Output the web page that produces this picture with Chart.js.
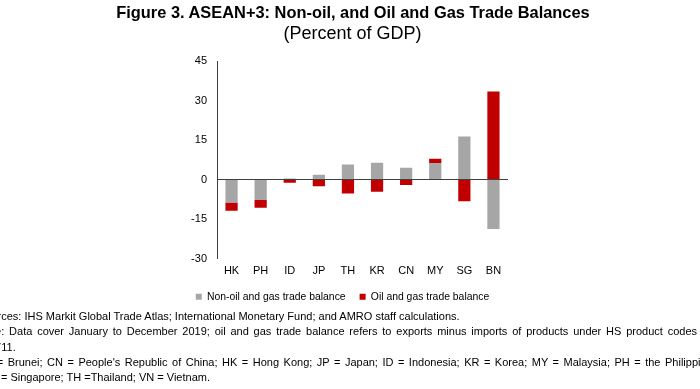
<!DOCTYPE html>
<html>
<head>
<meta charset="utf-8">
<script src="https://cdn.jsdelivr.net/npm/chart.js@4"></script>
<style>
  html, body { margin: 0; padding: 0; background: #fff; overflow: hidden; }
  #wrap { position: relative; width: 700px; height: 389px; }
  #tradeChart { position: absolute; left: 0; top: 0; }
  .head { position: absolute; left: 0; width: 706px; text-align: center; font-family: Arial, "Liberation Sans", sans-serif; color: #000; white-space: nowrap; }
  .note { position: absolute; font: 11px Arial, "Liberation Sans", sans-serif; color: #000; white-space: nowrap; }
</style>
</head>
<body>
<div id="wrap">
  <canvas id="tradeChart" width="700" height="389"></canvas>
  <div class="head" style="top:3px; font-size:16.4px; font-weight:bold;">Figure 3. ASEAN+3: Non-oil, and Oil and Gas Trade Balances</div>
  <div class="head" style="top:23px; font-size:18px; width:705px;">(Percent of GDP)</div>
  <div class="note" style="left:-22px; top:310px;">Sources: IHS Markit Global Trade Atlas; International Monetary Fund; and AMRO staff calculations.</div>
  <div class="note" style="left:-22px; top:325px; word-spacing:1.75px;">Note: Data cover January to December 2019; oil and gas trade balance refers to exports minus imports of products under HS product codes 2709 to</div>
  <div class="note" style="left:-11px; top:341px;">2711.</div>
  <div class="note" style="left:-23px; top:356px; word-spacing:1.45px;">BN = Brunei; CN = People's Republic of China; HK = Hong Kong; JP = Japan; ID = Indonesia; KR = Korea; MY = Malaysia; PH = the Philippines;</div>
  <div class="note" style="left:-18px; top:371px;">SG = Singapore; TH =Thailand; VN = Vietnam.</div>
</div>
<script>
// 国・地域ごとの貿易収支 (GDP比)
const categories = ['HK', 'PH', 'ID', 'JP', 'TH', 'KR', 'CN', 'MY', 'SG', 'BN'];
const nonOilBalance = [-8.7, -7.8, 0.4, 1.8, 5.7, 6.4, 4.5, 6.3, 16.3, -18.8];
const oilGasBalance = [-3.1, -2.9, -1.2, -2.5, -5.3, -4.6, -2.1, 1.6, -8.2, 33.4];
const yTicks = [-30, -15, 0, 15, 30, 45];

Chart.defaults.font.family = 'Arial, "Liberation Sans", sans-serif';
Chart.defaults.color = '#000';

let ctx = document.getElementById('tradeChart');
new Chart(ctx, {
  type: 'bar',
  data: {
    labels: categories,
    datasets: [
      {
        label: 'Non-oil and gas trade balance',
        data: nonOilBalance,
        backgroundColor: '#A6A6A6',
        barPercentage: 0.42,
        categoryPercentage: 1,
      },
      {
        label: 'Oil and gas trade balance',
        data: oilGasBalance,
        backgroundColor: '#C00000',
        barPercentage: 0.42,
        categoryPercentage: 1,
      },
    ],
  },
  options: {
    responsive: false,
    animation: false,
    layout: {
      padding: { left: 177, right: 192, top: 61, bottom: 77 },
    },
    scales: {
      x: {
        stacked: true,
        afterFit: function (scale) { scale.height = 19; },
        grid: { display: false },
        border: { display: false },
        ticks: { font: { size: 11 }, padding: -2 },
      },
      y: {
        stacked: true,
        min: -30,
        max: 45,
        afterFit: function (scale) { scale.width = 40; },
        afterBuildTicks: function (scale) {
          scale.ticks = yTicks.map(function (v) { return { value: v }; });
        },
        grid: {
          drawTicks: false,
          color: function (c) { return c.tick && c.tick.value === 0 ? '#404040' : 'rgba(0,0,0,0)'; },
        },
        border: { display: true, color: '#404040' },
        ticks: { font: { size: 11 }, padding: 10 },
      },
    },
    plugins: {
      title: { display: false },
      legend: {
        position: 'bottom',
        labels: { boxWidth: 6, boxHeight: 6, font: { size: 10.4 }, padding: 14 },
      },
      tooltip: { enabled: false },
    },
  },
});
</script>
</body>
</html>
